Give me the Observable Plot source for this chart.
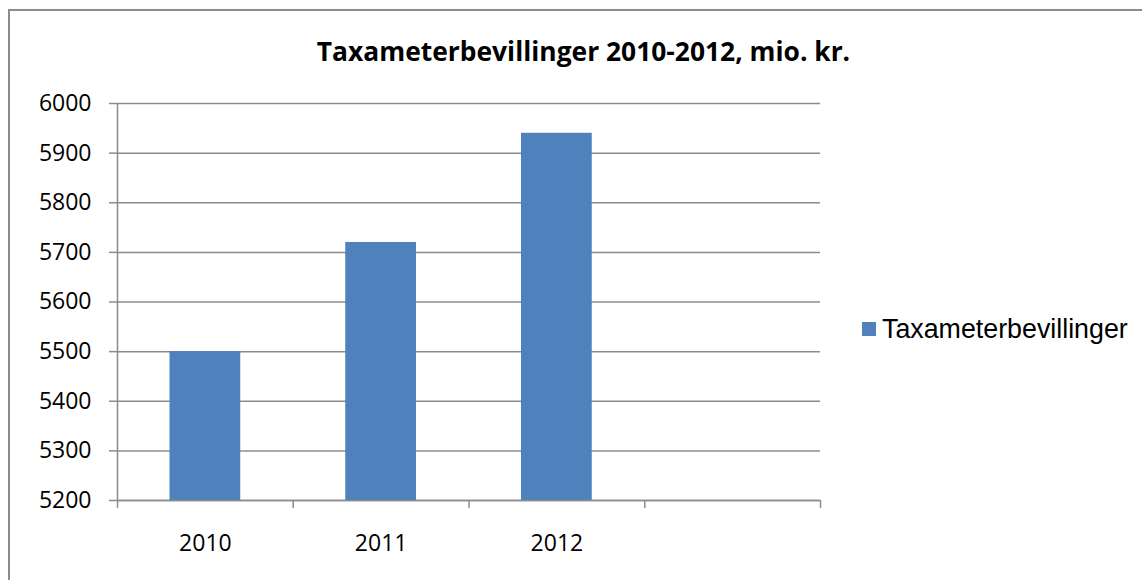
<!DOCTYPE html>
<html>
<head>
<meta charset="utf-8">
<script src="https://cdn.jsdelivr.net/npm/d3@7"></script>
<script src="https://cdn.jsdelivr.net/npm/@observablehq/plot@0.6"></script>
<style>
  html, body { margin: 0; padding: 0; background: #fff; }
  #wrap { position: relative; width: 1142px; height: 580px; overflow: hidden; }
  #frame { position: absolute; left: 8px; top: 9px; width: 1200px; height: 700px;
           border-left: 2px solid #8c8c8c; border-top: 2px solid #8c8c8c; }
  #title { position: absolute; left: 0; width: 1167px; top: 38px; text-align: center;
           font-family: "Open Sans", sans-serif; font-weight: bold; font-size: 26.4px; line-height: 1; color: #000; }
  #legend { position: absolute; left: 862px; top: 316px; display: flex; align-items: center;
            font-family: "Liberation Sans", Arial, sans-serif; font-size: 26.8px; line-height: 1; color: #000; }
  #legend .sw { width: 14px; height: 14px; margin-right: 6px; }
  svg { position: absolute; left: 0; top: 0; }
</style>
</head>
<body>
<div id="wrap">
  <div id="frame"></div>
  <div id="title"></div>
  <div id="legend"></div>
</div>
<script>
const titleText = "Taxameterbevillinger 2010-2012, mio. kr.";
const seriesName = "Taxameterbevillinger";
const categories = ["2010", "2011", "2012", ""];
const years = ["2010", "2011", "2012"];
const values = [5500, 5720, 5940];
const yTicks = [5200, 5300, 5400, 5500, 5600, 5700, 5800, 5900, 6000];
const barColor = "#4F81BD";
const gridColor = "#8c8c8c";

const data = years.map((year, i) => ({year, i, value: values[i]}));
const boundaries = d3.range(categories.length + 1);
const centers = categories.map((c, i) => i + 0.5).filter((d, i) => categories[i] !== "");

const chart = Plot.plot({
  width: 1142,
  height: 580,
  marginLeft: 117,
  marginRight: 322,
  marginTop: 103,
  marginBottom: 80,
  style: {background: "transparent", fontFamily: "'Open Sans', sans-serif", fontSize: "23px", color: "#000"},
  x: {type: "linear", domain: [0, categories.length], axis: null},
  y: {domain: [yTicks[0], yTicks[yTicks.length - 1]], axis: null},
  marks: [
    Plot.gridY(yTicks, {stroke: gridColor, strokeOpacity: 1, strokeWidth: 1.5}),
    Plot.rectY(data, {
      x1: d => d.i, x2: d => d.i + 1,
      y1: yTicks[0], y2: "value",
      insetLeft: 52.5, insetRight: 52.5,
      fill: barColor
    }),
    Plot.ruleX([0], {stroke: gridColor, strokeWidth: 1.5}),
    Plot.ruleY([yTicks[0]], {stroke: gridColor, strokeWidth: 1.5}),
    Plot.axisY({ticks: yTicks, tickSize: 8, tickPadding: 18, tickFormat: d => String(d),
                stroke: gridColor, strokeWidth: 1.5, strokeOpacity: 1, label: null, fontSize: 23}),
    Plot.axisX({ticks: boundaries, tickSize: 8, tickFormat: () => "", stroke: gridColor,
                strokeWidth: 1.5, strokeOpacity: 1, label: null}),
    Plot.axisX({ticks: centers, tickSize: 0, tickPadding: 34, tickFormat: d => categories[Math.floor(d)],
                label: null, fontSize: 23})
  ]
});

document.getElementById("wrap").appendChild(chart);
document.getElementById("title").textContent = titleText;
const legend = document.getElementById("legend");
const sw = document.createElement("span");
sw.className = "sw";
sw.style.background = barColor;
const lt = document.createElement("span");
lt.textContent = seriesName;
legend.appendChild(sw);
legend.appendChild(lt);
</script>
</body>
</html>
